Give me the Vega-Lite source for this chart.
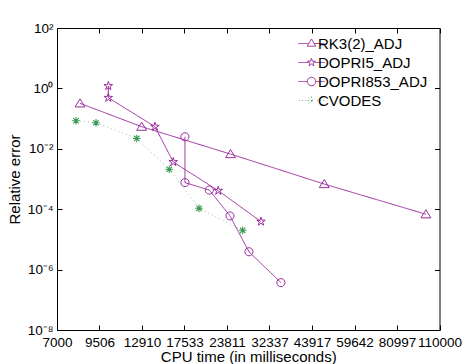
{
  "$schema": "https://vega.github.io/schema/vega-lite/v6.json",
  "width": 382.5,
  "height": 302,
  "autosize": "none",
  "padding": {"left": 57, "top": 28, "right": 24.5, "bottom": 34},
  "background": "white",
  "config": {
    "view": {"stroke": null},
    "font": "Liberation Sans",
    "axis": {
      "grid": false,
      "domainColor": "black",
      "domainWidth": 1,
      "tickColor": "black",
      "tickWidth": 1,
      "labelColor": "black",
      "titleColor": "black",
      "labelFont": "Liberation Sans",
      "titleFont": "Liberation Sans",
      "titleFontWeight": "normal"
    }
  },
  "data": {
    "values": [
      {"series": "RK3(2)_ADJ", "i": 1, "t": 8262, "err": 0.32},
      {"series": "RK3(2)_ADJ", "i": 2, "t": 12881, "err": 0.054},
      {"series": "RK3(2)_ADJ", "i": 3, "t": 24420, "err": 0.0067},
      {"series": "RK3(2)_ADJ", "i": 4, "t": 47960, "err": 0.00068},
      {"series": "RK3(2)_ADJ", "i": 5, "t": 99760, "err": 0.000068},
      {"series": "DOPRI5_ADJ", "i": 1, "t": 10130, "err": 1.2},
      {"series": "DOPRI5_ADJ", "i": 2, "t": 10130, "err": 0.49},
      {"series": "DOPRI5_ADJ", "i": 3, "t": 14172, "err": 0.054},
      {"series": "DOPRI5_ADJ", "i": 4, "t": 16170, "err": 0.00366},
      {"series": "DOPRI5_ADJ", "i": 5, "t": 22360, "err": 0.00041},
      {"series": "DOPRI5_ADJ", "i": 6, "t": 30410, "err": 0.000039},
      {"series": "DOPRI853_ADJ", "i": 1, "t": 17590, "err": 0.025},
      {"series": "DOPRI853_ADJ", "i": 2, "t": 17590, "err": 0.00076},
      {"series": "DOPRI853_ADJ", "i": 3, "t": 20960, "err": 0.00043},
      {"series": "DOPRI853_ADJ", "i": 4, "t": 24330, "err": 0.00006},
      {"series": "DOPRI853_ADJ", "i": 5, "t": 27890, "err": 0.0000039},
      {"series": "DOPRI853_ADJ", "i": 6, "t": 35110, "err": 0.00000037},
      {"series": "CVODES", "i": 1, "t": 8026, "err": 0.085},
      {"series": "CVODES", "i": 2, "t": 9270, "err": 0.073},
      {"series": "CVODES", "i": 3, "t": 12430, "err": 0.022},
      {"series": "CVODES", "i": 4, "t": 15710, "err": 0.0021},
      {"series": "CVODES", "i": 5, "t": 19460, "err": 0.000107},
      {"series": "CVODES", "i": 6, "t": 26660, "err": 0.00002}
    ]
  },
  "resolve": {"scale": {"x": "independent", "y": "independent"}, "axis": {"x": "independent", "y": "independent"}},
  "layer": [
    {
      "mark": {"type": "point", "filled": false, "size": 144, "strokeWidth": 1, "opacity": 0},
      "encoding": {
        "x": {
          "field": "t", "type": "quantitative",
          "scale": {"type": "log", "domain": [7000, 110000], "nice": false},
          "axis": {
            "orient": "top",
            "values": [7000, 9506, 12910, 17533, 23811, 32337, 43917, 59642, 80997, 110000],
            "labels": false,
            "tickSize": -5,
            "title": null
          }
        },
        "y": {
          "field": "err", "type": "quantitative",
          "scale": {"type": "log", "domain": [1e-8, 100], "nice": false},
          "axis": {
            "orient": "right",
            "values": [1e-8, 1e-6, 1e-4, 1e-2, 1, 100],
            "labels": false,
            "tickSize": -5,
            "title": null
          }
        },
        "color": {
          "field": "series", "type": "nominal",
          "scale": {
            "domain": ["RK3(2)_ADJ", "DOPRI5_ADJ", "DOPRI853_ADJ", "CVODES"],
            "range": ["#9c2c9e", "#9c2c9e", "#9c2c9e", "#3a9a52"]
          },
          "legend": {
            "orient": "none",
            "legendX": 247,
            "legendY": 8,
            "title": null,
            "padding": 0,
            "symbolSize": 144,
            "symbolStrokeWidth": 1,
            "symbolOpacity": 1,
            "symbolFillColor": "transparent",
            "labelFont": "Liberation Sans",
            "labelFontSize": 15,
            "labelColor": "black",
            "labelOffset": -1,
            "rowPadding": 3
          }
        },
        "shape": {
          "field": "series", "type": "nominal",
          "scale": {
            "domain": ["RK3(2)_ADJ", "DOPRI5_ADJ", "DOPRI853_ADJ", "CVODES"],
            "range": [
              "M-2.17,0H-0.45M0.45,0H2.17M0,-0.75L0.72,0.45L-0.72,0.45Z",
              "M-2.17,0H-0.5M0.5,0H2.17M0,-0.7L0.156,-0.215L0.666,-0.216L0.253,0.082L0.412,0.566L0,0.266L-0.412,0.566L-0.253,0.082L-0.666,-0.216L-0.156,-0.215Z",
              "M-2.17,0H-0.7M0.7,0H2.17M-0.7,0A0.7,0.7,0,1,0,0.7,0A0.7,0.7,0,1,0,-0.7,0Z",
              "M-2.1,0H-1.98M-1.6,0H-1.48M-1.1,0H-0.98M0.98,0H1.1M1.48,0H1.6M1.98,0H2.1M0,-0.65V0.65M-0.65,0H0.65M-0.46,-0.46L0.46,0.46M-0.46,0.46L0.46,-0.46"
            ]
          },
          "legend": {
            "orient": "none",
            "legendX": 247,
            "legendY": 8,
            "title": null,
            "padding": 0,
            "symbolSize": 144,
            "symbolStrokeWidth": 1,
            "symbolOpacity": 1,
            "symbolFillColor": "transparent",
            "labelFont": "Liberation Sans",
            "labelFontSize": 15,
            "labelColor": "black",
            "labelOffset": -1,
            "rowPadding": 3
          }
        }
      }
    },
    {
      "mark": {"type": "line", "strokeWidth": 1},
      "encoding": {
        "x": {
          "field": "t", "type": "quantitative",
          "scale": {"type": "log", "domain": [7000, 110000], "nice": false},
          "axis": {
            "orient": "bottom",
            "values": [7000, 9506, 12910, 17533, 23811, 32337, 43917, 59642, 80997, 110000],
            "format": "d",
            "labelFontSize": 13.5,
            "labelFlush": false,
            "labelOverlap": false,
            "tickSize": -5,
            "labelPadding": 10,
            "title": "CPU time (in milliseconds)",
            "titleFontSize": 15,
            "titlePadding": 1
          }
        },
        "y": {
          "field": "err", "type": "quantitative",
          "scale": {"type": "log", "domain": [1e-8, 100], "nice": false},
          "axis": {
            "orient": "left",
            "values": [1e-8, 1e-6, 1e-4, 1e-2, 1, 100],
            "labelExpr": "datum.value > 50 ? '10²' : datum.value > 0.5 ? '10⁰' : datum.value > 0.005 ? '10⁻²' : datum.value > 0.00005 ? '10⁻⁴' : datum.value > 0.0000005 ? '10⁻⁶' : '10⁻⁸'",
            "labelFontSize": 13.5,
            "labelFlush": false,
            "labelOverlap": false,
            "tickSize": -5,
            "labelPadding": 9,
            "title": "Relative error",
            "titleFontSize": 15,
            "titlePadding": 5
          }
        },
        "color": {"field": "series", "type": "nominal", "legend": null},
        "strokeDash": {
          "field": "series", "type": "nominal",
          "scale": {
            "domain": ["RK3(2)_ADJ", "DOPRI5_ADJ", "DOPRI853_ADJ", "CVODES"],
            "range": [[1, 0], [1, 0], [1, 0], [1, 3]]
          },
          "legend": null
        },
        "opacity": {
          "condition": {"test": "datum.series === 'CVODES'", "value": 0.55},
          "value": 1
        },
        "order": {"field": "i", "type": "quantitative"}
      }
    },
    {
      "transform": [{"filter": "datum.series === 'RK3(2)_ADJ'"}],
      "mark": {"type": "point", "filled": false, "size": 81, "strokeWidth": 1, "opacity": 1, "shape": "M0,-1L1.1,0.8L-1.1,0.8Z"},
      "encoding": {
        "x": {"field": "t", "type": "quantitative", "scale": {"type": "log", "domain": [7000, 110000], "nice": false}, "axis": null},
        "y": {"field": "err", "type": "quantitative", "scale": {"type": "log", "domain": [1e-8, 100], "nice": false}, "axis": null},
        "color": {"field": "series", "type": "nominal", "legend": null}
      }
    },
    {
      "transform": [{"filter": "datum.series === 'DOPRI5_ADJ'"}],
      "mark": {"type": "point", "filled": false, "size": 81, "strokeWidth": 1, "opacity": 1, "shape": "M0,-1L0.223,-0.307L0.951,-0.309L0.361,0.117L0.588,0.809L0,0.38L-0.588,0.809L-0.361,0.117L-0.951,-0.309L-0.223,-0.307Z"},
      "encoding": {
        "x": {"field": "t", "type": "quantitative", "scale": {"type": "log", "domain": [7000, 110000], "nice": false}, "axis": null},
        "y": {"field": "err", "type": "quantitative", "scale": {"type": "log", "domain": [1e-8, 100], "nice": false}, "axis": null},
        "color": {"field": "series", "type": "nominal", "legend": null}
      }
    },
    {
      "transform": [{"filter": "datum.series === 'DOPRI853_ADJ'"}],
      "mark": {"type": "point", "filled": false, "size": 81, "strokeWidth": 1, "opacity": 1, "shape": "M-0.9,0A0.9,0.9,0,1,0,0.9,0A0.9,0.9,0,1,0,-0.9,0Z"},
      "encoding": {
        "x": {"field": "t", "type": "quantitative", "scale": {"type": "log", "domain": [7000, 110000], "nice": false}, "axis": null},
        "y": {"field": "err", "type": "quantitative", "scale": {"type": "log", "domain": [1e-8, 100], "nice": false}, "axis": null},
        "color": {"field": "series", "type": "nominal", "legend": null}
      }
    },
    {
      "transform": [{"filter": "datum.series === 'CVODES'"}],
      "mark": {"type": "point", "filled": false, "size": 81, "strokeWidth": 1.1, "opacity": 1, "shape": "M0,-0.85V0.85M-0.85,0H0.85M-0.6,-0.6L0.6,0.6M-0.6,0.6L0.6,-0.6"},
      "encoding": {
        "x": {"field": "t", "type": "quantitative", "scale": {"type": "log", "domain": [7000, 110000], "nice": false}, "axis": null},
        "y": {"field": "err", "type": "quantitative", "scale": {"type": "log", "domain": [1e-8, 100], "nice": false}, "axis": null},
        "color": {"field": "series", "type": "nominal", "legend": null}
      }
    }
  ]
}
